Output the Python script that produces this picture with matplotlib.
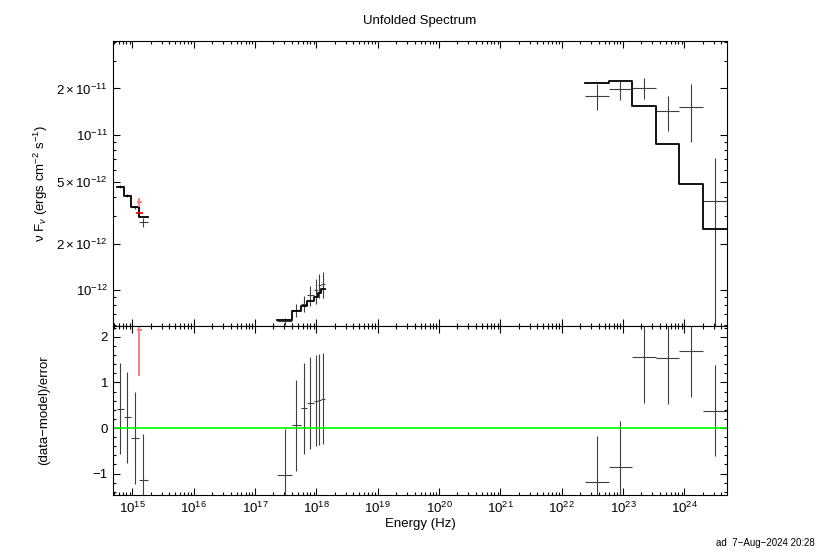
import matplotlib
matplotlib.use('Agg')
import matplotlib.pyplot as plt
import numpy as np
from matplotlib.ticker import FixedLocator, NullFormatter, MultipleLocator

plt.rcParams['font.family'] = ['Liberation Sans', 'DejaVu Sans']
plt.rcParams['mathtext.fontset'] = 'custom'
plt.rcParams['mathtext.rm'] = 'Liberation Sans'
plt.rcParams['mathtext.it'] = 'Liberation Sans:italic'
plt.rcParams['mathtext.bf'] = 'Liberation Sans:bold'

# --- UV / optical (black) ---
uv_edges = [5.62e14, 7.29e14, 9.48e14, 1.26e15, 1.79e15]
uv_flux = [4.69e-12, 4.10e-12, 3.43e-12, 2.75e-12]
uv_err = [0.10e-12, 0.10e-12, 0.09e-12, 0.19e-12]
uv_model = [4.65e-12, 4.08e-12, 3.45e-12, 2.96e-12]
uv_resid = [0.42, 0.24, -0.22, -1.13]

# --- UV (red) ---
red_edges = [1.175e15, 1.41e15]
red_flux = [3.70e-12]
red_err = [0.25e-12]
red_model = [3.16e-12]
red_resid = [2.15]

# --- X-ray ---
xr_edges = [2.31e17, 3.97e17, 5.62e17, 7.13e17, 9.02e17, 1.05e18, 1.20e18, 1.41e18]
xr_flux = [6.31e-13, 7.43e-13, 8.21e-13, 9.29e-13, 1.00e-12, 1.077e-12, 1.10e-12]
xr_err = [0.03e-12, 0.07e-12, 0.10e-12, 0.14e-12, 0.18e-12, 0.19e-12, 0.21e-12]
xr_model = [6.4e-13, 7.35e-13, 7.9e-13, 8.5e-13, 9.0e-13, 9.6e-13, 1.02e-12]
xr_resid = [-1.03, 0.06, 0.43, 0.55, 0.60, 0.62, 0.64]

# --- gamma-ray ---
gm_edges = [2.42e22, 5.82e22, 1.41e23, 3.43e23, 8.32e23, 2.02e24, 4.9e24]
gm_flux = [1.79e-11, 1.97e-11, 2.02e-11, 1.43e-11, 1.51e-11, 3.75e-12]
gm_err = [0.34e-11, 0.28e-11, 0.30e-11, 0.36e-11, 0.61e-11, 3.33e-12]
gm_model = [2.17e-11, 2.23e-11, 1.54e-11, 8.83e-12, 4.83e-12, 2.47e-12]
gm_resid = [-1.18, -0.85, 1.55, 1.53, 1.68, 0.38]

ytick_vals = [1e-12, 2e-12, 5e-12, 1e-11, 2e-11]
ytick_labels = [r'$10^{-12}$', r'$2\times10^{-12}$', r'$5\times10^{-12}$',
                r'$10^{-11}$', r'$2\times10^{-11}$']
xtick_vals = [1e15, 1e16, 1e17, 1e18, 1e19, 1e20, 1e21, 1e22, 1e23, 1e24]

fig = plt.figure(figsize=(8.24, 5.52), dpi=100)
ax1 = fig.add_axes([0.1371, 0.4103, 0.7451, 0.5154])
ax2 = fig.add_axes([0.1371, 0.1024, 0.7451, 0.3079], sharex=ax1)

groups = [
    (uv_edges, uv_flux, uv_err, uv_model, uv_resid, '#404040', 'black', 0.8),
    (xr_edges, xr_flux, xr_err, xr_model, xr_resid, '#404040', 'black', 0.8),
    (gm_edges, gm_flux, gm_err, gm_model, gm_resid, '#404040', 'black', 0.8),
    (red_edges, red_flux, red_err, red_model, red_resid, '#ff8080', 'red', 1.4),
]

for edges, flux, err, model, resid, dcol, mcol, elw in groups:
    edges = np.array(edges)
    lo, hi = edges[:-1], edges[1:]
    xc = np.sqrt(lo * hi)
    xerr = [xc - lo, hi - xc]
    ax1.errorbar(xc, flux, yerr=err, xerr=xerr, fmt='none', ecolor=dcol,
                 elinewidth=elw, capsize=0)
    ax1.step(edges, list(model) + [model[-1]], where='post', color=mcol, lw=1.3)
    ax2.errorbar(xc, resid, yerr=np.ones(len(resid)), xerr=xerr, fmt='none',
                 ecolor=dcol, elinewidth=elw, capsize=0)

ax2.axhline(0, color='#00ff00', lw=1.2)

for ax in (ax1, ax2):
    ax.set_xscale('log')
    ax.set_xlim(4.83e14, 4.95e24)
    ax.xaxis.set_major_locator(FixedLocator(xtick_vals))
    ax.xaxis.set_minor_locator(matplotlib.ticker.LogLocator(base=10, subs=np.arange(2, 10), numticks=30))
    ax.tick_params(which='both', direction='in', top=True, right=True, labelsize=9.5)
    ax.tick_params(which='major', length=5, width=0.8)
    ax.tick_params(which='minor', length=2.5, width=0.8)
    for s in ax.spines.values():
        s.set_linewidth(0.8)

ax1.set_yscale('log')
ax1.set_ylim(5.94e-13, 4.04e-11)
ax1.yaxis.set_major_locator(FixedLocator(ytick_vals))
ax1.yaxis.set_major_formatter(matplotlib.ticker.FixedFormatter(ytick_labels))
ax1.yaxis.set_minor_locator(matplotlib.ticker.LogLocator(base=10, subs=np.arange(1, 10), numticks=30))
ax1.yaxis.set_minor_formatter(NullFormatter())
ax1.tick_params(axis='x', labelbottom=False)
ax1.set_ylabel(r'ν F$_{ν}$ (ergs cm$^{-2}$ s$^{-1}$)', fontsize=9.5)
ax1.yaxis.set_label_coords(-0.103, 0.5)
ax1.set_title('Unfolded Spectrum', fontsize=9.5, pad=12)

ax2.set_ylim(-1.48, 2.25)
ax2.yaxis.set_major_locator(FixedLocator([-1, 0, 1, 2]))
ax2.yaxis.set_minor_locator(MultipleLocator(0.2))
ax2.set_xticklabels([r'$10^{%d}$' % int(np.log10(v)) for v in xtick_vals])
ax2.set_ylabel('(data−model)/error', fontsize=9.5)
ax2.yaxis.set_label_coords(-0.103, 0.5)
ax2.set_xlabel('Energy (Hz)', fontsize=9.5, labelpad=2)

fig.text(0.989, 0.008, 'ad  7−Aug−2024 20:28', fontsize=7, ha='right', va='bottom')

fig.savefig('out.png', dpi=100)
